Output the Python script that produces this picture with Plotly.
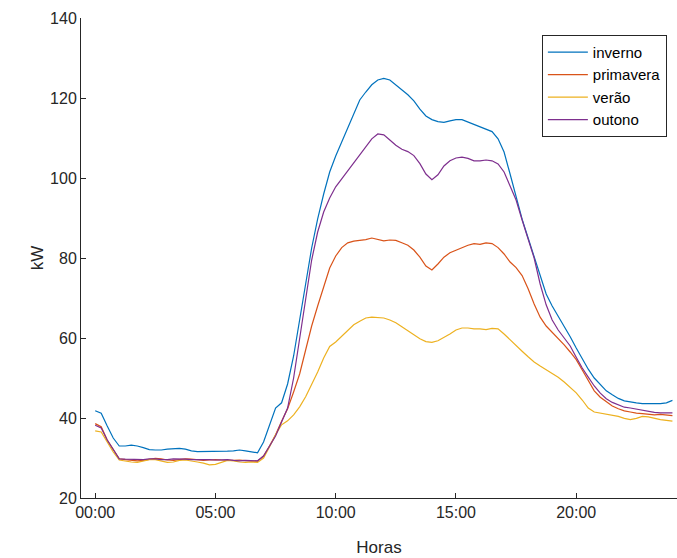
import plotly.graph_objects as go

hours = [i * 0.25 for i in range(97)]

inverno = [41.8, 41.2, 38.0, 35.0, 33.0, 33.0, 33.2, 33.0, 32.6, 32.1, 32.0, 32.0,
           32.2, 32.3, 32.4, 32.2, 31.8, 31.6, 31.6, 31.6, 31.6, 31.6, 31.7, 31.8,
           32.0, 31.8, 31.5, 31.3, 34.0, 38.5, 42.5, 43.8, 48.5, 55.5, 64.0, 73.5,
           82.5, 89.8, 96.0, 101.5, 105.5, 109.0, 112.5, 116.0, 119.5, 121.5, 123.3, 124.5,
           124.9, 124.5, 123.3, 122.0, 120.8, 119.3, 117.2, 115.5, 114.6, 114.1, 113.9, 114.3,
           114.6, 114.6, 114.0, 113.3, 112.8, 112.3, 111.6, 109.8, 106.5, 101.0, 95.0, 89.7,
           85.0, 80.5, 75.5, 71.0, 68.0, 65.5, 63.0, 60.3, 57.5, 54.8, 52.2, 50.0,
           48.3, 46.8, 45.8, 44.9, 44.3, 44.0, 43.8, 43.6, 43.6, 43.6, 43.6, 43.8, 44.4]

primavera = [38.6, 37.8, 34.5, 32.0, 29.8, 29.6, 29.4, 29.3, 29.4, 29.7, 29.9, 29.8,
             29.5, 29.4, 29.6, 29.8, 29.7, 29.5, 29.4, 29.5, 29.6, 29.5, 29.4, 29.4,
             29.5, 29.3, 29.2, 29.2, 30.5, 33.0, 35.8, 39.2, 42.3, 46.5, 51.0, 57.0,
             63.0, 68.0, 72.8, 77.5, 80.5, 82.6, 83.8, 84.2, 84.4, 84.6, 85.0, 84.6,
             84.3, 84.5, 84.4, 83.8, 83.2, 82.0, 80.2, 78.0, 77.0, 78.5, 80.2, 81.3,
             82.0, 82.6, 83.2, 83.6, 83.4, 83.8, 83.6, 82.6, 81.0, 79.0, 77.6, 75.6,
             72.3, 68.5, 65.2, 63.0, 61.5, 60.0, 58.3, 56.5, 54.6, 52.0, 49.3, 46.8,
             45.2, 44.0, 43.0, 42.3, 41.8, 41.5, 41.2, 41.1, 41.0, 40.8, 40.9, 40.8, 40.6]

verao = [36.8, 36.5, 34.0, 31.5, 29.5, 29.2, 29.0, 28.9, 29.2, 29.6, 29.6, 29.2,
         28.9, 29.0, 29.4, 29.5, 29.3, 29.0, 28.7, 28.3, 28.4, 29.0, 29.4, 29.3,
         29.0, 28.9, 29.0, 28.9, 30.0, 32.8, 35.8, 38.3, 39.3, 40.8, 42.8, 45.3,
         48.2, 51.5, 55.0, 57.9, 59.0, 60.5, 62.0, 63.3, 64.2, 65.0, 65.2, 65.1,
         65.0, 64.5, 63.8, 62.8, 61.8, 60.7, 59.8, 59.1, 58.9, 59.3, 60.1, 61.0,
         62.0, 62.5, 62.5, 62.3, 62.3, 62.1, 62.4, 62.3, 61.0, 59.5, 58.2, 56.7,
         55.3, 54.0, 53.0, 52.1, 51.3, 50.2, 49.0, 47.7, 46.3, 44.5, 42.5, 41.5,
         41.2, 40.9, 40.7, 40.4, 39.9, 39.6, 39.9, 40.4, 40.3, 39.9, 39.6, 39.4, 39.2]

outono = [38.2, 37.5, 34.5, 32.0, 29.8, 29.7, 29.7, 29.6, 29.6, 29.8, 29.8, 29.6,
          29.6, 29.8, 29.8, 29.7, 29.6, 29.6, 29.7, 29.6, 29.5, 29.6, 29.6, 29.4,
          29.3, 29.4, 29.3, 29.3, 30.5, 33.0, 35.5, 39.0, 42.5, 50.0, 60.0, 70.5,
          79.5, 86.5, 91.5, 95.0, 97.8, 99.8, 101.8, 104.0, 106.0, 108.0, 109.8, 111.0,
          110.8, 109.5, 108.2, 107.2, 106.6, 105.6, 103.6, 101.0, 99.6, 100.8, 103.0, 104.3,
          105.0, 105.2, 104.9, 104.3, 104.3, 104.5, 104.3, 103.5, 101.5, 98.0, 94.5, 89.5,
          85.0, 80.0, 73.5, 68.3, 64.5, 62.0, 60.0, 58.0, 55.2, 52.5, 50.2, 48.0,
          46.2, 44.8, 43.9, 43.2, 42.7, 42.5, 42.2, 41.9, 41.6, 41.4, 41.3, 41.3, 41.3]

series_names = ["inverno", "primavera", "verão", "outono"]
series_values = [inverno, primavera, verao, outono]
colors = ["#0072BD", "#D95319", "#EDB120", "#7E2F8E"]

tick_vals = [0, 5, 10, 15, 20]
tick_text = ["00:00", "05:00", "10:00", "15:00", "20:00"]
y_ticks = [20, 40, 60, 80, 100, 120, 140]

fig = go.Figure()
for name, vals, col in zip(series_names, series_values, colors):
    fig.add_trace(go.Scatter(x=hours, y=vals, mode="lines", name=name,
                             legendgroup=name,
                             line=dict(color=col, width=1.2)))

axis_color = "#262626"
font_family = "Liberation Sans, Arial, sans-serif"

fig.update_layout(
    width=677, height=558,
    margin=dict(l=81, r=0, t=18, b=60),
    paper_bgcolor="white", plot_bgcolor="white",
    font=dict(family=font_family, size=16, color=axis_color),
    showlegend=True,
    legend=dict(x=0.983, y=0.965, xanchor="right", yanchor="top",
                bordercolor=axis_color, borderwidth=1, bgcolor="white",
                font=dict(size=15, color="#000000"),
                itemwidth=40, tracegroupgap=0),
)

fig.update_xaxes(range=[-0.59, 24.19], tickvals=tick_vals, ticktext=tick_text,
                 showline=True, linecolor=axis_color, linewidth=1,
                 ticks="inside", ticklen=5, tickcolor=axis_color,
                 showgrid=False, zeroline=False,
                 title=dict(text="Horas", font=dict(size=17, color=axis_color), standoff=20),
                 tickfont=dict(size=16, color=axis_color))
fig.update_yaxes(range=[20, 140], tickvals=y_ticks,
                 showline=True, linecolor=axis_color, linewidth=1,
                 ticks="inside", ticklen=5, tickcolor=axis_color,
                 showgrid=False, zeroline=False,
                 title=dict(text="kW", font=dict(size=17, color=axis_color), standoff=2),
                 tickfont=dict(size=16, color=axis_color))

fig.write_html("out.html")
